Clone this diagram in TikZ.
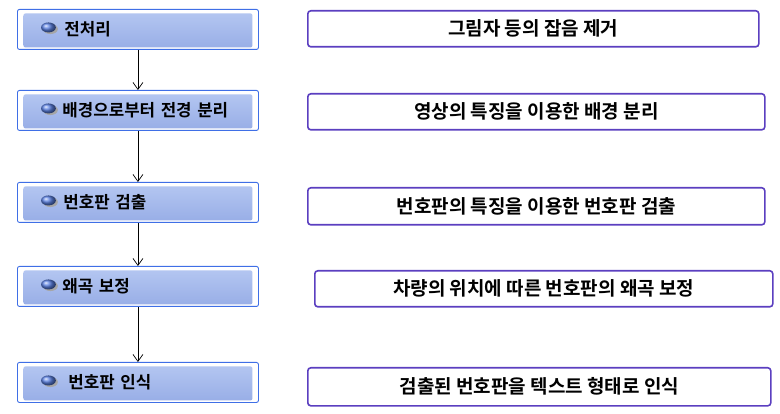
\documentclass[tikz,border=0pt]{standalone}
\usepackage{fontspec}
\setmainfont{Noto Sans CJK KR}[BoldFont={Noto Sans CJK KR Bold}]
\usetikzlibrary{arrows.meta,calc,shadings}
\definecolor{lborder}{HTML}{3F6FE6}
\definecolor{ltop}{HTML}{B6C8F2}
\definecolor{lbot}{HTML}{97ADE6}
\definecolor{rborder}{HTML}{5B3FC0}
\definecolor{bulletB}{HTML}{5C82E4}
\begin{document}
\begin{tikzpicture}[x=1pt,y=-1pt,
  stepbox/.style={draw=lborder, line width=0.9pt, fill=white, rounded corners=2pt,
    minimum width=241pt, minimum height=40pt, inner sep=0pt, anchor=north west,
    text width=241pt, align=left,
    font=\bfseries\fontsize{16.8pt}{18pt}\selectfont,
    path picture={
      \shade[top color=ltop, bottom color=lbot]
        ($(path picture bounding box.north west)+(6pt,-4pt)$) rectangle
        ($(path picture bounding box.south east)+(-6pt,2pt)$);
      \fill[gray!70] ($(path picture bounding box.west)+(33pt,0.4pt)$) ellipse [x radius=7.4pt, y radius=5pt];
      \shade[ball color=bulletB]
        ($(path picture bounding box.west)+(31pt,2pt)$) ellipse [x radius=7.4pt, y radius=5pt];
    }},
  descbox/.style={draw=rborder, line width=1.6pt, rounded corners=3pt,
    minimum height=36pt, inner sep=0pt, anchor=north west,
    font=\bfseries\fontsize{19pt}{21pt}\selectfont},
  flow/.style={draw=black, line width=0.7pt, -{Straight Barb[length=7pt,width=10pt,line width=0.7pt]}}
]
\useasboundingbox (0,0) rectangle (780,414);
\node[stepbox] (l1) at (17,9)   {\hspace*{47pt}전처리};
\node[stepbox] (l2) at (17,90)  {\hspace*{45pt}배경으로부터 전경 분리};
\node[stepbox] (l3) at (17,182) {\hspace*{46pt}번호판 검출};
\node[stepbox] (l4) at (17,266) {\hspace*{45pt}왜곡 보정};
\node[stepbox] (l5) at (17,362) {\hspace*{51pt}번호판 인식};

\node[descbox, minimum width=451pt] (r1) at (307,10)  {그림자 등의 잡음 제거};
\node[descbox, minimum width=457pt] (r2) at (307,93)  {영상의 특징을 이용한 배경 분리};
\node[descbox, minimum width=457pt, minimum height=37pt] (r3) at (307,187) {번호판의 특징을 이용한 번호판 검출};
\node[descbox, minimum width=458pt] (r4) at (314,270) {차량의 위치에 따른 번호판의 왜곡 보정};
\node[descbox, minimum width=463pt, minimum height=38pt] (r5) at (307,367) {검출된 번호판을 텍스트 형태로 인식};

\draw[flow] (l1.south) -- (l2.north);
\draw[flow] (l2.south) -- (l3.north);
\draw[flow] (l3.south) -- (l4.north);
\draw[flow] (l4.south) -- (l5.north);
\end{tikzpicture}
\end{document}
